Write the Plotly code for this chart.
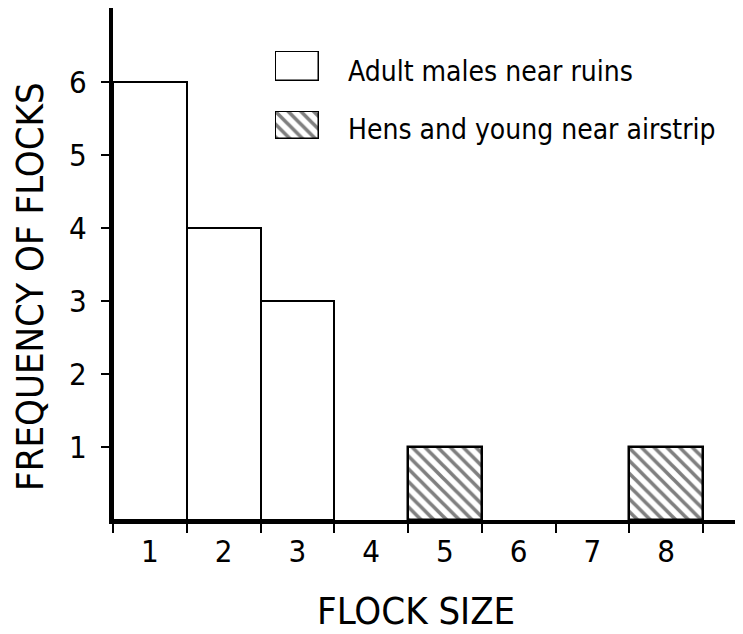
import plotly.graph_objects as go

flock_sizes = [1, 2, 3, 4, 5, 6, 7, 8]
tick_labels = ["1", "2", "3", "4", "5", "6", "7", "8"]
males_x = [1, 2, 3]
males_freq = [6, 4, 3]
hens_x = [5, 8]
hens_freq = [1, 1]
y_ticks = [1, 2, 3, 4, 5, 6]
bin_edges = [0.5, 1.5, 2.5, 3.5, 4.5, 5.5, 6.5, 7.5, 8.5]

FONT = "DejaVu Sans Condensed, DejaVu Sans, sans-serif"
OFF = 8  # page body margin of the browser
W, H = 743 - OFF, 634 - OFF
L, R, T, B = 113 - OFF, 3, 0, 114
pw, ph = W - L - R, H - T - B

def px(x):
    return (x - OFF - L) / pw

def py(y):
    return (H - B - (y - OFF)) / ph

hatch = dict(shape="\\", fgcolor="black", bgcolor="white", size=9, solidity=0.4)

fig = go.Figure()
fig.add_trace(go.Bar(x=males_x, y=males_freq, width=1, marker=dict(color="white", line=dict(color="black", width=2)),
                     showlegend=False))
fig.add_trace(go.Bar(x=hens_x, y=hens_freq, width=1,
                     marker=dict(color="white", line=dict(color="black", width=2.5), pattern=hatch),
                     showlegend=False))
# legend swatches
fig.add_trace(go.Bar(x=[0.5], y=[1], width=1, xaxis="x2", yaxis="y2",
                     marker=dict(color="white", line=dict(color="black", width=2.5)), showlegend=False))
fig.add_trace(go.Bar(x=[0.5], y=[1], width=1, xaxis="x3", yaxis="y3",
                     marker=dict(color="white", line=dict(color="black", width=2.5), pattern=hatch), showlegend=False))
# overlay axis for labels
fig.add_trace(go.Scatter(x=flock_sizes, y=[0]*8, xaxis="x4", mode="markers", marker=dict(opacity=0), showlegend=False,
                         hoverinfo="skip"))

xrange = [0.5, 9.0]
mini_ax = dict(range=[0, 1], visible=False, fixedrange=True, automargin=False)
fig.update_layout(
    width=W, height=H, margin=dict(l=L, r=R, t=T, b=B, autoexpand=False),
    plot_bgcolor="white", paper_bgcolor="white",
    font=dict(family=FONT, color="black"),
    bargap=0,
    xaxis=dict(range=xrange, tickvals=bin_edges, ticktext=[""]*9, ticks="outside", ticklen=9, tickwidth=2,
               tickcolor="black", showline=True, linewidth=4, linecolor="black", showgrid=False, zeroline=False,
               automargin=False),
    xaxis4=dict(range=xrange, overlaying="x", tickvals=flock_sizes, ticktext=tick_labels, ticks="",
                showgrid=False, zeroline=False, showline=False, tickfont=dict(size=31), side="bottom",
                anchor="y", ticklabelstandoff=10, automargin=False),
    yaxis=dict(range=[0, 7.01], tickvals=y_ticks, ticks="outside", ticklen=8, tickwidth=2, tickcolor="black",
               showline=True, linewidth=4, linecolor="black", showgrid=False, zeroline=False,
               tickfont=dict(size=31), ticklabelstandoff=8, automargin=False),
    xaxis2=dict(domain=[px(275), px(319)], anchor="y2", **mini_ax),
    yaxis2=dict(domain=[py(81), py(51)], anchor="x2", **mini_ax),
    xaxis3=dict(domain=[px(275), px(319)], anchor="y3", **mini_ax),
    yaxis3=dict(domain=[py(139), py(111)], anchor="x3", **mini_ax),
    annotations=[
        dict(text="Adult males near ruins", x=px(346), y=py(71), xref="paper", yref="paper",
             xanchor="left", yanchor="middle", showarrow=False, font=dict(size=28)),
        dict(text="Hens and young near airstrip", x=px(346), y=py(129), xref="paper", yref="paper",
             xanchor="left", yanchor="middle", showarrow=False, font=dict(size=28)),
        dict(text="FLOCK SIZE", x=px(416), y=py(611), xref="paper", yref="paper",
             xanchor="center", yanchor="middle", showarrow=False, font=dict(size=38)),
        dict(text="FREQUENCY OF FLOCKS", x=px(30), y=py(287), xref="paper", yref="paper", textangle=-90,
             xanchor="center", yanchor="middle", showarrow=False, font=dict(size=38)),
    ],
)
fig.write_html("out.html")
